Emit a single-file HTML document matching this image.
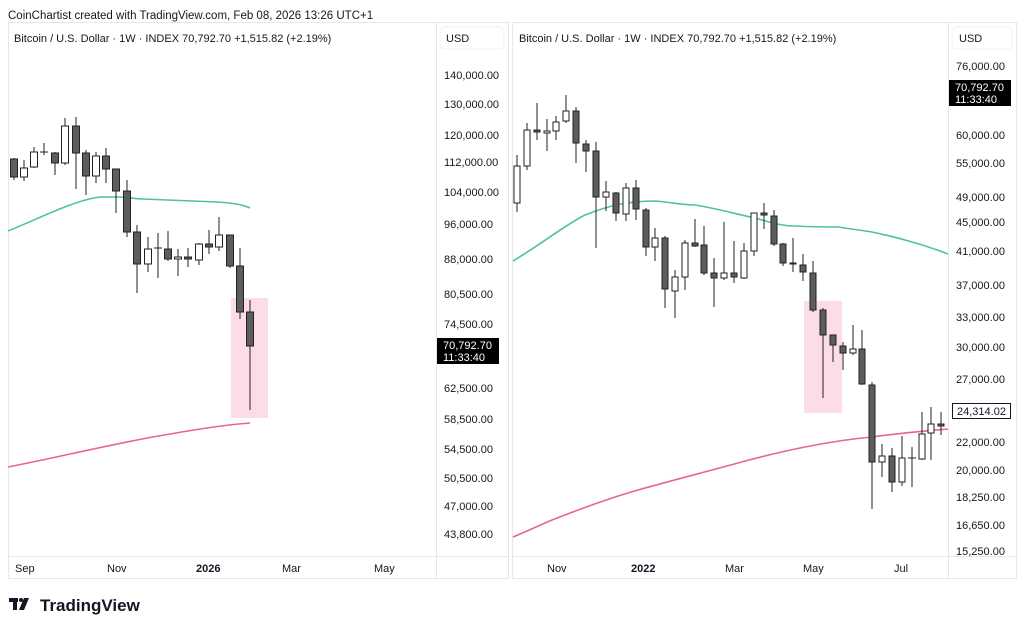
<!DOCTYPE html>
<html><head><meta charset="utf-8"><style>
html,body{margin:0;padding:0;background:#fff;width:1024px;height:630px;overflow:hidden}
svg{display:block;font-family:"Liberation Sans",Arial,sans-serif}
</style></head><body>
<svg width="1024" height="630" viewBox="0 0 1024 630" xmlns="http://www.w3.org/2000/svg">
<rect width="1024" height="630" fill="#fff"/>
<text x="8" y="19" font-size="11.5" fill="#131722">CoinChartist created with TradingView.com, Feb 08, 2026 13:26 UTC+1</text>
<!-- pane borders -->
<g stroke="#e6e7ea" fill="none" stroke-width="1">
<rect x="8.5" y="22.5" width="500" height="556"/>
<line x1="436.5" y1="22" x2="436.5" y2="579"/>
<line x1="8" y1="556.5" x2="508" y2="556.5"/>
<rect x="512.5" y="22.5" width="504" height="556"/>
<line x1="948.5" y1="22" x2="948.5" y2="579"/>
<line x1="512" y1="556.5" x2="1016" y2="556.5"/>
</g>
<rect x="440" y="27" width="64" height="22" rx="4" fill="#fff" stroke="#f0f1f3"/>
<rect x="952" y="27" width="60" height="22" rx="4" fill="#fff" stroke="#f0f1f3"/>
<g font-size="11" fill="#131722">
<text x="446" y="42">USD</text>
<text x="959" y="42">USD</text>
<text x="14" y="42">Bitcoin / U.S. Dollar · 1W · INDEX  70,792.70  +1,515.82 (+2.19%)</text>
<text x="519" y="42">Bitcoin / U.S. Dollar · 1W · INDEX  70,792.70  +1,515.82 (+2.19%)</text>
</g>
<!-- left axis labels -->
<g font-size="11" fill="#131722">
<text x="444" y="79">140,000.00</text>
<text x="444" y="108">130,000.00</text>
<text x="444" y="139">120,000.00</text>
<text x="444" y="166">112,000.00</text>
<text x="444" y="196">104,000.00</text>
<text x="444" y="228">96,000.00</text>
<text x="444" y="263">88,000.00</text>
<text x="444" y="298">80,500.00</text>
<text x="444" y="328">74,500.00</text>
<text x="444" y="392">62,500.00</text>
<text x="444" y="423">58,500.00</text>
<text x="444" y="453">54,500.00</text>
<text x="444" y="482">50,500.00</text>
<text x="444" y="510">47,000.00</text>
<text x="444" y="538">43,800.00</text>
</g>
<rect x="437" y="338" width="62" height="26" fill="#000"/>
<text x="443" y="349" font-size="11" fill="#fff">70,792.70</text>
<text x="443" y="361" font-size="11" fill="#fff">11:33:40</text>
<!-- right axis labels -->
<g font-size="11" fill="#131722">
<text x="956" y="70">76,000.00</text>
<text x="956" y="139">60,000.00</text>
<text x="956" y="167">55,000.00</text>
<text x="956" y="201">49,000.00</text>
<text x="956" y="226">45,000.00</text>
<text x="956" y="255">41,000.00</text>
<text x="956" y="289">37,000.00</text>
<text x="956" y="321">33,000.00</text>
<text x="956" y="351">30,000.00</text>
<text x="956" y="383">27,000.00</text>
<text x="956" y="446">22,000.00</text>
<text x="956" y="474">20,000.00</text>
<text x="956" y="501">18,250.00</text>
<text x="956" y="529">16,650.00</text>
<text x="956" y="555">15,250.00</text>
</g>
<rect x="949" y="80" width="62" height="26" fill="#000"/>
<text x="955" y="91" font-size="11" fill="#fff">70,792.70</text>
<text x="955" y="103" font-size="11" fill="#fff">11:33:40</text>
<rect x="952.5" y="403.5" width="58" height="15" fill="#fff" stroke="#131722"/>
<text x="957" y="415" font-size="11" fill="#131722">24,314.02</text>
<!-- time axis -->
<g font-size="11" fill="#131722">
<text x="15" y="572">Sep</text>
<text x="107" y="572">Nov</text>
<text x="196" y="572" font-weight="bold">2026</text>
<text x="282" y="572">Mar</text>
<text x="374" y="572">May</text>
<text x="547" y="572">Nov</text>
<text x="631" y="572" font-weight="bold">2022</text>
<text x="725" y="572">Mar</text>
<text x="803" y="572">May</text>
<text x="894" y="572">Jul</text>
</g>
<!-- logo -->
<g fill="#131722">
<rect x="9" y="598" width="9" height="4"/><rect x="13" y="598" width="4" height="12"/>
<circle cx="21" cy="600" r="2"/>
<polygon points="24,598 29,598 24,610 19,610"/>
<text x="40" y="611" font-size="17" font-weight="bold">TradingView</text>
</g>
<!-- LEFT PANE -->
<rect x="231" y="298" width="37" height="120" fill="#fcdde6"/>
<path d="M8,231 C40,218 75,200 100,197 L120,197 C130,198 138,199 143,199 L217,202 C235,203 244,205 250,208" fill="none" stroke="#4fc1a6" stroke-width="1.6"/>
<path d="M8,467 C60,457 120,442 170,434 C210,427 235,424 250,423" fill="none" stroke="#e8658e" stroke-width="1.6"/>
<g stroke="#222" stroke-width="1">
<line x1="14" y1="158" x2="14" y2="180"/><rect x="10.5" y="159" width="7" height="18" fill="#5d5d5d"/>
<line x1="24" y1="160" x2="24" y2="181"/><rect x="20.5" y="168" width="7" height="9" fill="#fff"/>
<line x1="34" y1="147" x2="34" y2="168"/><rect x="30.5" y="152" width="7" height="15" fill="#fff"/>
<line x1="44" y1="143" x2="44" y2="155"/><line x1="40" y1="152" x2="48" y2="152"/>
<line x1="55" y1="152" x2="55" y2="175"/><rect x="51.5" y="153" width="7" height="10" fill="#5d5d5d"/>
<line x1="65" y1="118" x2="65" y2="165"/><rect x="61.5" y="126" width="7" height="37" fill="#fff"/>
<line x1="76" y1="117" x2="76" y2="189"/><rect x="72.5" y="126" width="7" height="27" fill="#5d5d5d"/>
<line x1="86" y1="150" x2="86" y2="195"/><rect x="82.5" y="153" width="7" height="23" fill="#5d5d5d"/>
<line x1="96" y1="152" x2="96" y2="183"/><rect x="92.5" y="156" width="7" height="20" fill="#fff"/>
<line x1="106" y1="148" x2="106" y2="183"/><rect x="102.5" y="156" width="7" height="13" fill="#5d5d5d"/>
<line x1="116" y1="169" x2="116" y2="213"/><rect x="112.5" y="169" width="7" height="22" fill="#5d5d5d"/>
<line x1="127" y1="180" x2="127" y2="237"/><rect x="123.5" y="191" width="7" height="41" fill="#5d5d5d"/>
<line x1="137" y1="225" x2="137" y2="293"/><rect x="133.5" y="232" width="7" height="32" fill="#5d5d5d"/>
<line x1="148" y1="237" x2="148" y2="272"/><rect x="144.5" y="249" width="7" height="15" fill="#fff"/>
<line x1="158" y1="233" x2="158" y2="278"/><line x1="154" y1="248" x2="162" y2="248"/>
<line x1="168" y1="231" x2="168" y2="261"/><rect x="164.5" y="249" width="7" height="10" fill="#5d5d5d"/>
<line x1="178" y1="249" x2="178" y2="276"/><rect x="174.5" y="257" width="7" height="2" fill="#fff"/>
<line x1="188" y1="248" x2="188" y2="267"/><rect x="184.5" y="257" width="7" height="2" fill="#5d5d5d"/>
<line x1="199" y1="243" x2="199" y2="265"/><rect x="195.5" y="244" width="7" height="16" fill="#fff"/>
<line x1="209" y1="230" x2="209" y2="254"/><rect x="205.5" y="244" width="7" height="3" fill="#5d5d5d"/>
<line x1="219" y1="217" x2="219" y2="251"/><rect x="215.5" y="235" width="7" height="12" fill="#fff"/>
<line x1="230" y1="235" x2="230" y2="268"/><rect x="226.5" y="235" width="7" height="31" fill="#5d5d5d"/>
<line x1="240" y1="248" x2="240" y2="319"/><rect x="236.5" y="266" width="7" height="46" fill="#5d5d5d"/>
<line x1="250" y1="300" x2="250" y2="410"/><rect x="246.5" y="312" width="7" height="34" fill="#5d5d5d"/>
</g>
<!-- RIGHT PANE -->
<rect x="804" y="301" width="38" height="112" fill="#fcdde6"/>
<path d="M513,261 C540,245 565,225 585,215 C610,205 630,201 655,201 C670,202 680,205 695,205 C720,209 735,214 755,218 C770,222 780,226 795,226 C815,227 830,227 838,227 C850,229 860,230 872,232 C885,235 895,237 905,240 C920,244 935,249 948,254" fill="none" stroke="#4fc1a6" stroke-width="1.6"/>
<path d="M513,537 C530,530 540,525 552,520 C580,509 610,498 638,490 C670,481 705,472 738,463 C760,457 785,451 805,447 C830,442 850,439 872,437 C900,433 925,431 948,429" fill="none" stroke="#e8658e" stroke-width="1.6"/>
<g stroke="#222" stroke-width="1">
<line x1="517" y1="155" x2="517" y2="212"/><rect x="514" y="166" width="6" height="37" fill="#fff"/>
<line x1="527" y1="123" x2="527" y2="170"/><rect x="524" y="130" width="6" height="36" fill="#fff"/>
<line x1="537" y1="103" x2="537" y2="140"/><rect x="534" y="130" width="6" height="2" fill="#5d5d5d"/>
<line x1="547" y1="119" x2="547" y2="151"/><rect x="544" y="131" width="6" height="2" fill="#fff"/>
<line x1="556" y1="116" x2="556" y2="140"/><rect x="553" y="122" width="6" height="9" fill="#fff"/>
<line x1="566" y1="95" x2="566" y2="123"/><rect x="563" y="111" width="6" height="10" fill="#fff"/>
<line x1="576" y1="107" x2="576" y2="163"/><rect x="573" y="111" width="6" height="32" fill="#5d5d5d"/>
<line x1="586" y1="140" x2="586" y2="172"/><rect x="583" y="144" width="6" height="7" fill="#5d5d5d"/>
<line x1="596" y1="142" x2="596" y2="248"/><rect x="593" y="151" width="6" height="46" fill="#5d5d5d"/>
<line x1="606" y1="181" x2="606" y2="211"/><rect x="603" y="192" width="6" height="5" fill="#fff"/>
<line x1="616" y1="192" x2="616" y2="221"/><rect x="613" y="193" width="6" height="20" fill="#5d5d5d"/>
<line x1="626" y1="183" x2="626" y2="221"/><rect x="623" y="188" width="6" height="26" fill="#fff"/>
<line x1="636" y1="180" x2="636" y2="220"/><rect x="633" y="188" width="6" height="21" fill="#5d5d5d"/>
<line x1="646" y1="208" x2="646" y2="256"/><rect x="643" y="210" width="6" height="37" fill="#5d5d5d"/>
<line x1="655" y1="228" x2="655" y2="261"/><rect x="652" y="238" width="6" height="9" fill="#fff"/>
<line x1="665" y1="236" x2="665" y2="308"/><rect x="662" y="238" width="6" height="51" fill="#5d5d5d"/>
<line x1="675" y1="270" x2="675" y2="318"/><rect x="672" y="277" width="6" height="14" fill="#fff"/>
<line x1="685" y1="240" x2="685" y2="290"/><rect x="682" y="243" width="6" height="34" fill="#fff"/>
<line x1="695" y1="219" x2="695" y2="247"/><rect x="692" y="243" width="6" height="3" fill="#5d5d5d"/>
<line x1="704" y1="226" x2="704" y2="275"/><rect x="701" y="245" width="6" height="28" fill="#5d5d5d"/>
<line x1="714" y1="258" x2="714" y2="307"/><rect x="711" y="273" width="6" height="5" fill="#5d5d5d"/>
<line x1="724" y1="222" x2="724" y2="280"/><rect x="721" y="273" width="6" height="5" fill="#fff"/>
<line x1="734" y1="241" x2="734" y2="283"/><rect x="731" y="273" width="6" height="4" fill="#5d5d5d"/>
<line x1="744" y1="243" x2="744" y2="279"/><rect x="741" y="251" width="6" height="27" fill="#fff"/>
<line x1="754" y1="213" x2="754" y2="256"/><rect x="751" y="213" width="6" height="38" fill="#fff"/>
<line x1="764" y1="203" x2="764" y2="229"/><rect x="761" y="213" width="6" height="2" fill="#5d5d5d"/>
<line x1="774" y1="210" x2="774" y2="246"/><rect x="771" y="216" width="6" height="28" fill="#5d5d5d"/>
<line x1="783" y1="243" x2="783" y2="266"/><rect x="780" y="244" width="6" height="19" fill="#5d5d5d"/>
<line x1="793" y1="238" x2="793" y2="272"/><rect x="790" y="263" width="6" height="1" fill="#5d5d5d"/>
<line x1="803" y1="254" x2="803" y2="281"/><rect x="800" y="265" width="6" height="7" fill="#5d5d5d"/>
<line x1="813" y1="261" x2="813" y2="312"/><rect x="810" y="273" width="6" height="37" fill="#5d5d5d"/>
<line x1="823" y1="308" x2="823" y2="398"/><rect x="820" y="310" width="6" height="25" fill="#5d5d5d"/>
<line x1="833" y1="335" x2="833" y2="362"/><rect x="830" y="335" width="6" height="10" fill="#5d5d5d"/>
<line x1="843" y1="342" x2="843" y2="370"/><rect x="840" y="346" width="6" height="7" fill="#5d5d5d"/>
<line x1="853" y1="325" x2="853" y2="355"/><rect x="850" y="349" width="6" height="4" fill="#fff"/>
<line x1="862" y1="330" x2="862" y2="385"/><rect x="859" y="349" width="6" height="35" fill="#5d5d5d"/>
<line x1="872" y1="382" x2="872" y2="509"/><rect x="869" y="385" width="6" height="77" fill="#5d5d5d"/>
<line x1="882" y1="444" x2="882" y2="477"/><rect x="879" y="456" width="6" height="6" fill="#fff"/>
<line x1="892" y1="448" x2="892" y2="492"/><rect x="889" y="456" width="6" height="26" fill="#5d5d5d"/>
<line x1="902" y1="436" x2="902" y2="486"/><rect x="899" y="458" width="6" height="24" fill="#fff"/>
<line x1="912" y1="447" x2="912" y2="487"/><line x1="908" y1="458" x2="916" y2="458"/>
<line x1="922" y1="412" x2="922" y2="460"/><rect x="919" y="434" width="6" height="25" fill="#fff"/>
<line x1="931" y1="407" x2="931" y2="460"/><rect x="928" y="424" width="6" height="9" fill="#fff"/>
<line x1="941" y1="412" x2="941" y2="435"/><rect x="938" y="424" width="6" height="2" fill="#5d5d5d"/>
</g>
</svg>
</body></html>
